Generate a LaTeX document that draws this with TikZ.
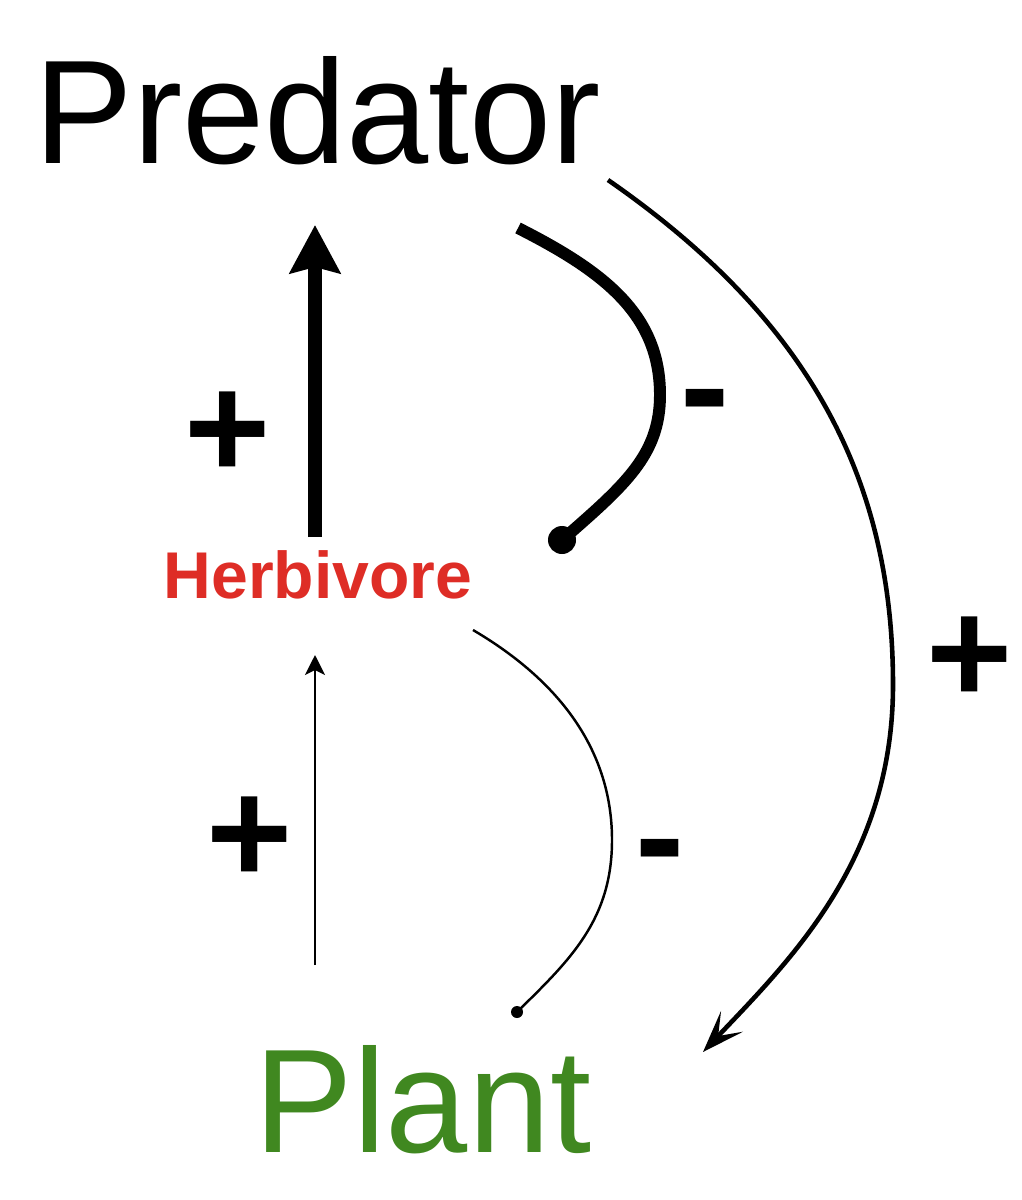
\documentclass[tikz,border=0pt]{standalone}
\usepackage{fontspec}
\setmainfont{Liberation Sans}
\usetikzlibrary{arrows.meta}
\definecolor{herbred}{RGB}{222,45,38}
\definecolor{plantgreen}{RGB}{64,136,32}
\begin{document}
\begin{tikzpicture}[x=0.01cm,y=-0.01cm,
        big/.style={font=\fontsize{42}{48}\selectfont,inner sep=0,anchor=base},
        sign/.style={font=\fontsize{42}{48}\selectfont\bfseries,inner sep=0,anchor=base}]
        \useasboundingbox (0,0) rectangle (1022,1200);
        %% Species
        \node[big] (pred) at (318,163) {Predator};
        \node[inner sep=0,anchor=base,text=herbred,font=\fontsize{18.8}{22}\selectfont\bfseries] (herb) at (318,598) {Herbivore};
        \node[big,text=plantgreen] (plant) at (423,1152) {Plant};
        %% Ends of the links
        \coordinate (hup) at (315,537);
        \coordinate (ptip) at (315,225);
        \coordinate (pstart) at (518,228);
        \coordinate (hdot) at (562,540);
        \coordinate (pout) at (608,180);
        \coordinate (pltip) at (703,1052);
        \coordinate (plup) at (315,965);
        \coordinate (htip) at (315,655);
        \coordinate (hstart) at (473,630);
        \coordinate (pldot) at (517,1012);
        %% Links
        \draw[line width=4pt,-{Stealth[length=0.48cm,width=0.5cm,inset=0.06cm]}] (hup) -- (ptip);
        \draw[line width=3.4pt] (pstart) .. controls (605,272) and (660,315) .. (660,395) .. controls (660,455) and (625,485) .. (hdot);
        \fill (hdot) circle[radius=0.14cm];
        \draw[line width=1.3pt,-{Stealth[length=0.42cm,width=0.3cm,inset=0.2cm]}] (pout) .. controls (810,320) and (893,480) .. (893,685) .. controls (893,860) and (790,960) .. (pltip);
        \draw[line width=0.6pt,-{Stealth[length=0.2cm,width=0.2cm,inset=0.05cm]}] (plup) -- (htip);
        \draw[line width=0.7pt] (hstart) .. controls (575,690) and (612,765) .. (612,840) .. controls (612,920) and (570,960) .. (pldot);
        \fill (pldot) circle[radius=0.06cm];
        %% Signs
        \node[sign] (s1) at (228,478) {+};
        \node[sign] (s2) at (705,436) {-};
        \node[sign] (s3) at (970,703) {+};
        \node[sign] (s4) at (250,883) {+};
        \node[sign] (s5) at (660,886) {-};
\end{tikzpicture}
\end{document}
